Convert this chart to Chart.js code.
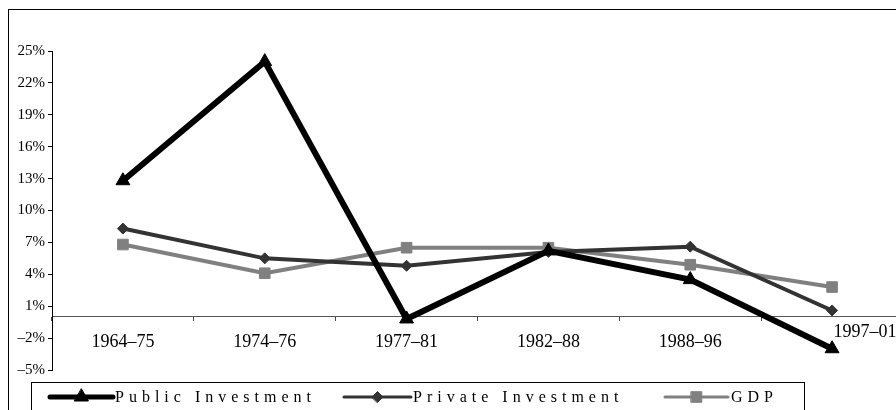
<!DOCTYPE html>
<html>
<head>
<meta charset="utf-8">
<script src="https://cdn.jsdelivr.net/npm/chart.js@4.4.1/dist/chart.umd.min.js"></script>
<style>
  html, body { margin: 0; padding: 0; background: #fff; overflow: hidden; }
  #wrap { width: 912px; height: 410px; }
</style>
</head>
<body>
<div id="wrap"><canvas id="chart" width="912" height="410"></canvas></div>
<script>
// periods on the x axis
const periods = ["1964\u201375", "1974\u201376", "1977\u201381", "1982\u201388", "1988\u201396", "1997\u201301"];

// growth rates in percent
const publicInvestment = [12.8, 24.0, -0.2, 6.2, 3.5, -3.0];
const privateInvestment = [8.3, 5.5, 4.8, 6.1, 6.6, 0.6];
const gdp = [6.8, 4.1, 6.5, 6.5, 4.9, 2.8];

const yMin = -5;
const yMax = 25;
const yStep = 3;

const serif = "'Liberation Serif', 'Times New Roman', serif";

// frame around the whole figure
const framePlugin = {
  id: "frame",
  beforeDraw(chart) {
    const ctx = chart.ctx;
    ctx.save();
    ctx.strokeStyle = "#000";
    ctx.lineWidth = 1;
    ctx.strokeRect(8.5, 9.5, 1000, 500);
    ctx.restore();

    // excel pushed the last period label up and to the right so it clears the marker
    const xs = chart.scales.x;
    const items = xs.getLabelItems(chart.chartArea);
    const last = items[items.length - 1];
    if (last && !last._moved) {
      last.options.translation[0] += 33;
      last.options.translation[1] -= 10;
      last._moved = true;
    }
  },
};

// excel style legend: line sample with marker, letter spaced serif text
const legendPlugin = {
  id: "excelLegend",
  afterDraw(chart) {
    const ctx = chart.ctx;
    const slots = [
      { x0: 50, x1: 113, tx: 115 },
      { x0: 344, x1: 411, tx: 413 },
      { x0: 665, x1: 728, tx: 731 },
    ];
    const y = 397;
    ctx.save();
    ctx.strokeStyle = "#000";
    ctx.lineWidth = 1;
    ctx.strokeRect(31.5, 382.5, 773, 60);

    chart.data.datasets.forEach((ds, i) => {
      const s = slots[i];
      ctx.strokeStyle = ds.borderColor;
      ctx.lineWidth = ds.borderWidth - 1;
      ctx.lineCap = "round";
      ctx.beginPath();
      ctx.moveTo(s.x0, y);
      ctx.lineTo(s.x1, y);
      ctx.stroke();

      ctx.fillStyle = ds.pointBackgroundColor;
      ctx.strokeStyle = ds.pointBorderColor;
      ctx.lineWidth = 1;
      Chart.helpers.drawPoint(ctx, {
        pointStyle: ds.pointStyle,
        radius: ds.pointRadius,
        rotation: 0,
        borderWidth: 1,
      }, (s.x0 + s.x1) / 2, y);

      ctx.fillStyle = "#000";
      ctx.font = "16px " + serif;
      ctx.letterSpacing = "5px";
      ctx.textBaseline = "middle";
      ctx.textAlign = "left";
      ctx.fillText(ds.label, s.tx, y + 1);
    });
    ctx.restore();
  },
};

new Chart(document.getElementById("chart"), {
  type: "line",
  data: {
    labels: periods,
    datasets: [
      {
        label: "Public Investment",
        data: publicInvestment,
        borderColor: "#000000",
        borderWidth: 6,
        pointStyle: "triangle",
        pointRadius: 8,
        pointBackgroundColor: "#000000",
        pointBorderColor: "#000000",
        pointBorderWidth: 1,
        tension: 0,
      },
      {
        label: "Private Investment",
        data: privateInvestment,
        borderColor: "#333333",
        borderWidth: 4,
        pointStyle: "rectRot",
        pointRadius: 5.5,
        pointBackgroundColor: "#333333",
        pointBorderColor: "#333333",
        pointBorderWidth: 1,
        tension: 0,
      },
      {
        label: "GDP",
        data: gdp,
        borderColor: "#808080",
        borderWidth: 4,
        pointStyle: "rect",
        pointRadius: 7.5,
        pointBackgroundColor: "#808080",
        pointBorderColor: "#808080",
        pointBorderWidth: 1,
        tension: 0,
      },
    ],
  },
  options: {
    responsive: false,
    animation: false,
    layout: {
      padding: { left: 0, top: 51, right: 8, bottom: 40 },
    },
    plugins: {
      legend: { display: false },
      tooltip: { enabled: false },
    },
    scales: {
      x: {
        type: "category",
        position: { y: 0 },
        offset: true,
        grid: {
          offset: true,
          drawOnChartArea: false,
          drawTicks: true,
          tickLength: 4,
          color: "#444",
        },
        border: { display: true, color: "#555", width: 1 },
        ticks: {
          color: "#000",
          padding: 11,
          maxRotation: 0,
          autoSkip: false,
          font: { family: serif, size: 18 },
        },
      },
      y: {
        min: yMin,
        max: yMax,
        afterFit: (scale) => {
          scale.width = 52; // y axis line sits at x = 52
        },
        grid: {
          drawOnChartArea: false,
          drawTicks: true,
          tickLength: 4,
          color: "#000",
        },
        border: { display: true, color: "#000", width: 1 },
        ticks: {
          stepSize: yStep,
          color: "#000",
          padding: 3,
          font: { family: serif, size: 15 },
          callback: (val) => (val < 0 ? "\u2013" + Math.abs(val) : val) + "%",
        },
      },
    },
  },
  plugins: [framePlugin, legendPlugin],
});
</script>
</body>
</html>
